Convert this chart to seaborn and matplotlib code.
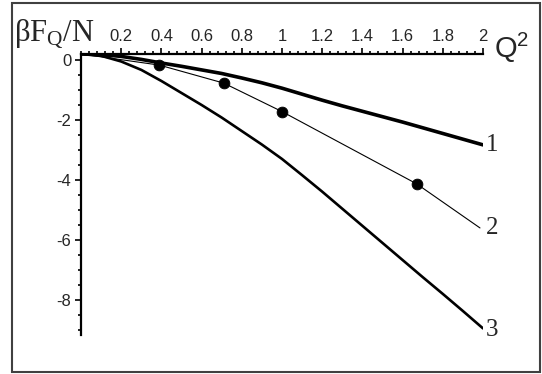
import matplotlib
matplotlib.use('Agg')
from matplotlib import pyplot as plt
from matplotlib.ticker import MultipleLocator
from matplotlib.patches import Rectangle
import seaborn as sns

# values (Q^2 on x, beta F_Q / N on y)
q = [0.0, 0.1, 0.2, 0.3, 0.4, 0.5, 0.6, 0.7, 0.8, 0.9, 1.0,
     1.1, 1.2, 1.3, 1.4, 1.5, 1.6, 1.7, 1.8, 1.9, 2.0]
curve_1 = [0.2, 0.18, 0.12, 0.02, -0.1, -0.21, -0.33, -0.45, -0.6, -0.76, -0.94,
           -1.14, -1.34, -1.53, -1.71, -1.89, -2.07, -2.26, -2.45, -2.64, -2.83]
curve_3 = [0.2, 0.14, -0.05, -0.33, -0.7, -1.1, -1.5, -1.92, -2.37, -2.82, -3.3,
           -3.84, -4.39, -4.96, -5.53, -6.1, -6.67, -7.24, -7.8, -8.37, -8.95]

# curve 2: thin line through the measured points
q_2 = [0.0, 0.39, 0.71, 1.0, 1.67, 1.985]
curve_2 = [0.2, -0.17, -0.77, -1.72, -4.13, -5.6]
points_q = [0.39, 0.71, 1.0, 1.67]
points_f = [-0.17, -0.77, -1.72, -4.13]

curve_names = ['1', '2', '3']
curve_ends = [-2.83, -5.6, -9.0]

x_ticks = [0.2, 0.4, 0.6, 0.8, 1, 1.2, 1.4, 1.6, 1.8, 2]
x_tick_labels = ['0.2', '0.4', '0.6', '0.8', '1', '1.2', '1.4', '1.6', '1.8', '2']
y_ticks = [0, -2, -4, -6, -8]

sns.set_theme(style='ticks')
plt.rcParams['font.family'] = ['Liberation Sans', 'DejaVu Sans']
plt.rcParams['axes.unicode_minus'] = False
plt.rcParams['mathtext.fontset'] = 'stix'

fig = plt.figure(figsize=(5.42, 3.74), dpi=100)
ax = fig.add_axes([81 / 542, 1 - 335 / 374, (483 - 81) / 542, (335 - 54) / 374])

sns.lineplot(x=q, y=curve_1, ax=ax, color='black', linewidth=2.6)
sns.lineplot(x=q_2, y=curve_2, ax=ax, color='black', linewidth=0.8)
sns.lineplot(x=q, y=curve_3, ax=ax, color='black', linewidth=1.9)
sns.scatterplot(x=points_q, y=points_f, ax=ax, color='black', s=60, edgecolor='black', zorder=5)

ax.set_xlim(0, 2)
ax.set_ylim(-9.17, 0.2)

ax.xaxis.tick_top()
ax.set_xticks(x_ticks)
ax.set_xticklabels(x_tick_labels)
ax.xaxis.set_minor_locator(MultipleLocator(0.04))
ax.set_yticks(y_ticks)
ax.yaxis.set_minor_locator(MultipleLocator(0.5))
ax.tick_params(axis='both', which='major', labelsize=12, length=4, width=1.2, color='black', pad=3)
ax.tick_params(axis='both', which='minor', length=2, width=1.2, color='black')

for side in ['bottom', 'right']:
    ax.spines[side].set_visible(False)
for side in ['top', 'left']:
    ax.spines[side].set_linewidth(1.6)
    ax.spines[side].set_color('black')

for name, end in zip(curve_names, curve_ends):
    ax.text(2.015, end, name, fontsize=18, family='Liberation Serif',
            ha='left', va='center', clip_on=False)

fig.text(14 / 542, 1 - 40 / 374, r'$\mathregular{\beta F_Q/N}$', fontsize=22,
         family='Liberation Serif', ha='left', va='baseline')
fig.text(494 / 542, 1 - 58 / 374, r'$\mathregular{Q^2}$', fontsize=21,
         family='Liberation Sans', ha='left', va='baseline')

fig.add_artist(Rectangle((12 / 542, 2 / 374), (540 - 12) / 542, (372 - 3) / 374,
                         transform=fig.transFigure, fill=False,
                         edgecolor='#404040', linewidth=1.5))

fig.savefig('out.png', dpi=100)
